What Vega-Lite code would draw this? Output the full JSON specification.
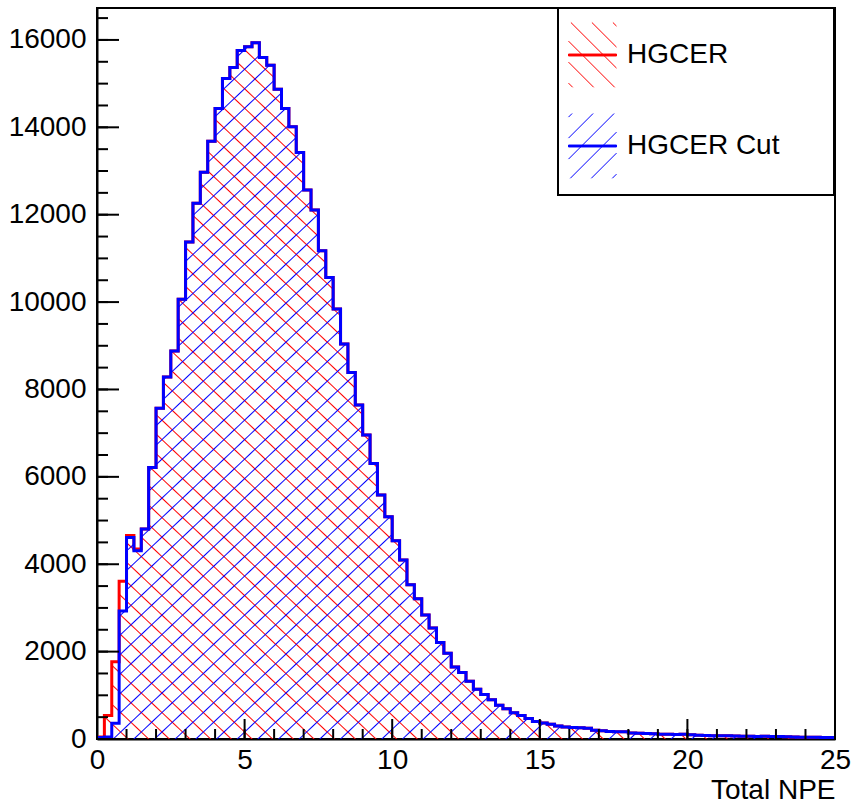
{
"$schema":"https://vega.github.io/schema/vega-lite/v6.json",
"width":738,"height":731,
"autosize":{"type":"none"},
"padding":{"left":97,"top":8,"right":19,"bottom":65},
"background":"white",
"config":{
"view":{"stroke":"black","strokeWidth":2},
"font":"Liberation Sans",
"axis":{"grid":false,"ticks":false,"domainColor":"black","domainWidth":2,"labelColor":"black","labelFont":"Liberation Sans","labelFontSize":28,"titleFont":"Liberation Sans","titleFontSize":28,"titleFontWeight":"normal","titleColor":"black","labelFlush":false,"labelOverlap":false}
},
"data":{"values":[
{"x":0,"r":45,"b":35},{"x":0.25,"r":540,"b":45},{"x":0.5,"r":1769,"b":360},{"x":0.75,"r":3612,"b":2930},
{"x":1,"r":4655,"b":4610},{"x":1.25,"r":4346,"b":4310},{"x":1.5,"r":4805,"b":4805},{"x":1.75,"r":6213,"b":6213},
{"x":2,"r":7573,"b":7573},{"x":2.25,"r":8285,"b":8285},{"x":2.5,"r":8881,"b":8881},{"x":2.75,"r":10063,"b":10063},
{"x":3,"r":11375,"b":11375},{"x":3.25,"r":12265,"b":12265},{"x":3.5,"r":12970,"b":12970},{"x":3.75,"r":13680,"b":13680},
{"x":4,"r":14433,"b":14433},{"x":4.25,"r":15120,"b":15120},{"x":4.5,"r":15370,"b":15370},{"x":4.75,"r":15757,"b":15757},
{"x":5,"r":15845,"b":15845},{"x":5.25,"r":15935,"b":15935},{"x":5.5,"r":15600,"b":15600},{"x":5.75,"r":15423,"b":15423},
{"x":6,"r":14874,"b":14874},{"x":6.25,"r":14432,"b":14432},{"x":6.5,"r":14012,"b":14012},{"x":6.75,"r":13425,"b":13425},
{"x":7,"r":12563,"b":12563},{"x":7.25,"r":12110,"b":12110},{"x":7.5,"r":11174,"b":11174},{"x":7.75,"r":10565,"b":10565},
{"x":8,"r":9840,"b":9840},{"x":8.25,"r":9039,"b":9039},{"x":8.5,"r":8391,"b":8391},{"x":8.75,"r":7643,"b":7643},
{"x":9,"r":6957,"b":6957},{"x":9.25,"r":6308,"b":6308},{"x":9.5,"r":5584,"b":5584},{"x":9.75,"r":5087,"b":5087},
{"x":10,"r":4538,"b":4538},{"x":10.25,"r":4096,"b":4096},{"x":10.5,"r":3532,"b":3532},{"x":10.75,"r":3210,"b":3210},
{"x":11,"r":2838,"b":2838},{"x":11.25,"r":2540,"b":2540},{"x":11.5,"r":2208,"b":2208},{"x":11.75,"r":1961,"b":1961},
{"x":12,"r":1648,"b":1648},{"x":12.25,"r":1520,"b":1520},{"x":12.5,"r":1323,"b":1323},{"x":12.75,"r":1137,"b":1137},
{"x":13,"r":1018,"b":1018},{"x":13.25,"r":900,"b":900},{"x":13.5,"r":770,"b":770},{"x":13.75,"r":690,"b":690},
{"x":14,"r":600,"b":600},{"x":14.25,"r":540,"b":540},{"x":14.5,"r":470,"b":470},{"x":14.75,"r":400,"b":400},
{"x":15,"r":365,"b":365},{"x":15.25,"r":335,"b":335},{"x":15.5,"r":297,"b":297},{"x":15.75,"r":275,"b":275},
{"x":16,"r":262,"b":262},{"x":16.25,"r":256,"b":256},{"x":16.5,"r":244,"b":244},{"x":16.75,"r":200,"b":200},
{"x":17,"r":191,"b":191},{"x":17.25,"r":172,"b":172},{"x":17.5,"r":168,"b":168},{"x":17.75,"r":165,"b":165},
{"x":18,"r":140,"b":140},{"x":18.25,"r":132,"b":132},{"x":18.5,"r":128,"b":128},{"x":18.75,"r":122,"b":122},
{"x":19,"r":110,"b":110},{"x":19.25,"r":107,"b":107},{"x":19.5,"r":104,"b":104},{"x":19.75,"r":106,"b":106},
{"x":20,"r":100,"b":100},{"x":20.25,"r":85,"b":85},{"x":20.5,"r":78,"b":78},{"x":20.75,"r":76,"b":76},
{"x":21,"r":74,"b":74},{"x":21.25,"r":72,"b":72},{"x":21.5,"r":70,"b":70},{"x":21.75,"r":64,"b":64},
{"x":22,"r":62,"b":62},{"x":22.25,"r":60,"b":60},{"x":22.5,"r":62,"b":62},{"x":22.75,"r":58,"b":58},
{"x":23,"r":55,"b":55},{"x":23.25,"r":54,"b":54},{"x":23.5,"r":45,"b":45},{"x":23.75,"r":42,"b":42},
{"x":24,"r":40,"b":40},{"x":24.25,"r":38,"b":38},{"x":24.5,"r":36,"b":36},{"x":24.75,"r":35,"b":35},
{"x":25,"r":35,"b":35}
]},
"layer":[
{"mark":{"type":"area","interpolate":"step-after","fillOpacity":1,
"fill":{"gradient":"linear","x1":0,"y1":1,"x2":1,"y2":0,"stops":[
{"offset":0.006,"color":"rgba(255,0,0,0)"},{"offset":0.007,"color":"#ff0000"},{"offset":0.008,"color":"rgba(255,0,0,0)"},
{"offset":0.020,"color":"rgba(255,0,0,0)"},{"offset":0.021,"color":"#ff0000"},{"offset":0.022,"color":"rgba(255,0,0,0)"},
{"offset":0.034,"color":"rgba(255,0,0,0)"},{"offset":0.035,"color":"#ff0000"},{"offset":0.036,"color":"rgba(255,0,0,0)"},
{"offset":0.048,"color":"rgba(255,0,0,0)"},{"offset":0.049,"color":"#ff0000"},{"offset":0.050,"color":"rgba(255,0,0,0)"},
{"offset":0.062,"color":"rgba(255,0,0,0)"},{"offset":0.063,"color":"#ff0000"},{"offset":0.064,"color":"rgba(255,0,0,0)"},
{"offset":0.076,"color":"rgba(255,0,0,0)"},{"offset":0.077,"color":"#ff0000"},{"offset":0.078,"color":"rgba(255,0,0,0)"},
{"offset":0.090,"color":"rgba(255,0,0,0)"},{"offset":0.091,"color":"#ff0000"},{"offset":0.092,"color":"rgba(255,0,0,0)"},
{"offset":0.104,"color":"rgba(255,0,0,0)"},{"offset":0.105,"color":"#ff0000"},{"offset":0.106,"color":"rgba(255,0,0,0)"},
{"offset":0.118,"color":"rgba(255,0,0,0)"},{"offset":0.119,"color":"#ff0000"},{"offset":0.120,"color":"rgba(255,0,0,0)"},
{"offset":0.132,"color":"rgba(255,0,0,0)"},{"offset":0.133,"color":"#ff0000"},{"offset":0.134,"color":"rgba(255,0,0,0)"},
{"offset":0.146,"color":"rgba(255,0,0,0)"},{"offset":0.147,"color":"#ff0000"},{"offset":0.148,"color":"rgba(255,0,0,0)"},
{"offset":0.160,"color":"rgba(255,0,0,0)"},{"offset":0.161,"color":"#ff0000"},{"offset":0.162,"color":"rgba(255,0,0,0)"},
{"offset":0.174,"color":"rgba(255,0,0,0)"},{"offset":0.175,"color":"#ff0000"},{"offset":0.176,"color":"rgba(255,0,0,0)"},
{"offset":0.188,"color":"rgba(255,0,0,0)"},{"offset":0.189,"color":"#ff0000"},{"offset":0.190,"color":"rgba(255,0,0,0)"},
{"offset":0.202,"color":"rgba(255,0,0,0)"},{"offset":0.203,"color":"#ff0000"},{"offset":0.204,"color":"rgba(255,0,0,0)"},
{"offset":0.216,"color":"rgba(255,0,0,0)"},{"offset":0.217,"color":"#ff0000"},{"offset":0.218,"color":"rgba(255,0,0,0)"},
{"offset":0.230,"color":"rgba(255,0,0,0)"},{"offset":0.231,"color":"#ff0000"},{"offset":0.232,"color":"rgba(255,0,0,0)"},
{"offset":0.244,"color":"rgba(255,0,0,0)"},{"offset":0.245,"color":"#ff0000"},{"offset":0.246,"color":"rgba(255,0,0,0)"},
{"offset":0.258,"color":"rgba(255,0,0,0)"},{"offset":0.259,"color":"#ff0000"},{"offset":0.260,"color":"rgba(255,0,0,0)"},
{"offset":0.272,"color":"rgba(255,0,0,0)"},{"offset":0.273,"color":"#ff0000"},{"offset":0.274,"color":"rgba(255,0,0,0)"},
{"offset":0.286,"color":"rgba(255,0,0,0)"},{"offset":0.287,"color":"#ff0000"},{"offset":0.288,"color":"rgba(255,0,0,0)"},
{"offset":0.300,"color":"rgba(255,0,0,0)"},{"offset":0.301,"color":"#ff0000"},{"offset":0.302,"color":"rgba(255,0,0,0)"},
{"offset":0.314,"color":"rgba(255,0,0,0)"},{"offset":0.315,"color":"#ff0000"},{"offset":0.316,"color":"rgba(255,0,0,0)"},
{"offset":0.328,"color":"rgba(255,0,0,0)"},{"offset":0.329,"color":"#ff0000"},{"offset":0.330,"color":"rgba(255,0,0,0)"},
{"offset":0.342,"color":"rgba(255,0,0,0)"},{"offset":0.343,"color":"#ff0000"},{"offset":0.344,"color":"rgba(255,0,0,0)"},
{"offset":0.356,"color":"rgba(255,0,0,0)"},{"offset":0.357,"color":"#ff0000"},{"offset":0.358,"color":"rgba(255,0,0,0)"},
{"offset":0.370,"color":"rgba(255,0,0,0)"},{"offset":0.371,"color":"#ff0000"},{"offset":0.372,"color":"rgba(255,0,0,0)"},
{"offset":0.384,"color":"rgba(255,0,0,0)"},{"offset":0.385,"color":"#ff0000"},{"offset":0.386,"color":"rgba(255,0,0,0)"},
{"offset":0.398,"color":"rgba(255,0,0,0)"},{"offset":0.399,"color":"#ff0000"},{"offset":0.400,"color":"rgba(255,0,0,0)"},
{"offset":0.412,"color":"rgba(255,0,0,0)"},{"offset":0.413,"color":"#ff0000"},{"offset":0.414,"color":"rgba(255,0,0,0)"},
{"offset":0.426,"color":"rgba(255,0,0,0)"},{"offset":0.427,"color":"#ff0000"},{"offset":0.428,"color":"rgba(255,0,0,0)"},
{"offset":0.440,"color":"rgba(255,0,0,0)"},{"offset":0.441,"color":"#ff0000"},{"offset":0.442,"color":"rgba(255,0,0,0)"},
{"offset":0.454,"color":"rgba(255,0,0,0)"},{"offset":0.455,"color":"#ff0000"},{"offset":0.456,"color":"rgba(255,0,0,0)"},
{"offset":0.468,"color":"rgba(255,0,0,0)"},{"offset":0.469,"color":"#ff0000"},{"offset":0.470,"color":"rgba(255,0,0,0)"},
{"offset":0.482,"color":"rgba(255,0,0,0)"},{"offset":0.483,"color":"#ff0000"},{"offset":0.484,"color":"rgba(255,0,0,0)"},
{"offset":0.496,"color":"rgba(255,0,0,0)"},{"offset":0.497,"color":"#ff0000"},{"offset":0.498,"color":"rgba(255,0,0,0)"},
{"offset":0.510,"color":"rgba(255,0,0,0)"},{"offset":0.511,"color":"#ff0000"},{"offset":0.512,"color":"rgba(255,0,0,0)"},
{"offset":0.524,"color":"rgba(255,0,0,0)"},{"offset":0.525,"color":"#ff0000"},{"offset":0.526,"color":"rgba(255,0,0,0)"},
{"offset":0.538,"color":"rgba(255,0,0,0)"},{"offset":0.539,"color":"#ff0000"},{"offset":0.540,"color":"rgba(255,0,0,0)"},
{"offset":0.552,"color":"rgba(255,0,0,0)"},{"offset":0.553,"color":"#ff0000"},{"offset":0.554,"color":"rgba(255,0,0,0)"},
{"offset":0.566,"color":"rgba(255,0,0,0)"},{"offset":0.567,"color":"#ff0000"},{"offset":0.568,"color":"rgba(255,0,0,0)"},
{"offset":0.580,"color":"rgba(255,0,0,0)"},{"offset":0.581,"color":"#ff0000"},{"offset":0.582,"color":"rgba(255,0,0,0)"},
{"offset":0.594,"color":"rgba(255,0,0,0)"},{"offset":0.595,"color":"#ff0000"},{"offset":0.596,"color":"rgba(255,0,0,0)"},
{"offset":0.608,"color":"rgba(255,0,0,0)"},{"offset":0.609,"color":"#ff0000"},{"offset":0.610,"color":"rgba(255,0,0,0)"},
{"offset":0.622,"color":"rgba(255,0,0,0)"},{"offset":0.623,"color":"#ff0000"},{"offset":0.624,"color":"rgba(255,0,0,0)"},
{"offset":0.636,"color":"rgba(255,0,0,0)"},{"offset":0.637,"color":"#ff0000"},{"offset":0.638,"color":"rgba(255,0,0,0)"},
{"offset":0.650,"color":"rgba(255,0,0,0)"},{"offset":0.651,"color":"#ff0000"},{"offset":0.652,"color":"rgba(255,0,0,0)"},
{"offset":0.664,"color":"rgba(255,0,0,0)"},{"offset":0.665,"color":"#ff0000"},{"offset":0.666,"color":"rgba(255,0,0,0)"},
{"offset":0.678,"color":"rgba(255,0,0,0)"},{"offset":0.679,"color":"#ff0000"},{"offset":0.680,"color":"rgba(255,0,0,0)"},
{"offset":0.692,"color":"rgba(255,0,0,0)"},{"offset":0.693,"color":"#ff0000"},{"offset":0.694,"color":"rgba(255,0,0,0)"},
{"offset":0.706,"color":"rgba(255,0,0,0)"},{"offset":0.707,"color":"#ff0000"},{"offset":0.708,"color":"rgba(255,0,0,0)"},
{"offset":0.720,"color":"rgba(255,0,0,0)"},{"offset":0.721,"color":"#ff0000"},{"offset":0.722,"color":"rgba(255,0,0,0)"},
{"offset":0.734,"color":"rgba(255,0,0,0)"},{"offset":0.735,"color":"#ff0000"},{"offset":0.736,"color":"rgba(255,0,0,0)"},
{"offset":0.748,"color":"rgba(255,0,0,0)"},{"offset":0.749,"color":"#ff0000"},{"offset":0.750,"color":"rgba(255,0,0,0)"},
{"offset":0.762,"color":"rgba(255,0,0,0)"},{"offset":0.763,"color":"#ff0000"},{"offset":0.764,"color":"rgba(255,0,0,0)"},
{"offset":0.776,"color":"rgba(255,0,0,0)"},{"offset":0.777,"color":"#ff0000"},{"offset":0.778,"color":"rgba(255,0,0,0)"},
{"offset":0.790,"color":"rgba(255,0,0,0)"},{"offset":0.791,"color":"#ff0000"},{"offset":0.792,"color":"rgba(255,0,0,0)"},
{"offset":0.804,"color":"rgba(255,0,0,0)"},{"offset":0.805,"color":"#ff0000"},{"offset":0.806,"color":"rgba(255,0,0,0)"},
{"offset":0.818,"color":"rgba(255,0,0,0)"},{"offset":0.819,"color":"#ff0000"},{"offset":0.820,"color":"rgba(255,0,0,0)"},
{"offset":0.832,"color":"rgba(255,0,0,0)"},{"offset":0.833,"color":"#ff0000"},{"offset":0.834,"color":"rgba(255,0,0,0)"},
{"offset":0.846,"color":"rgba(255,0,0,0)"},{"offset":0.847,"color":"#ff0000"},{"offset":0.848,"color":"rgba(255,0,0,0)"},
{"offset":0.860,"color":"rgba(255,0,0,0)"},{"offset":0.861,"color":"#ff0000"},{"offset":0.862,"color":"rgba(255,0,0,0)"},
{"offset":0.874,"color":"rgba(255,0,0,0)"},{"offset":0.875,"color":"#ff0000"},{"offset":0.876,"color":"rgba(255,0,0,0)"},
{"offset":0.888,"color":"rgba(255,0,0,0)"},{"offset":0.889,"color":"#ff0000"},{"offset":0.890,"color":"rgba(255,0,0,0)"},
{"offset":0.902,"color":"rgba(255,0,0,0)"},{"offset":0.903,"color":"#ff0000"},{"offset":0.904,"color":"rgba(255,0,0,0)"},
{"offset":0.916,"color":"rgba(255,0,0,0)"},{"offset":0.917,"color":"#ff0000"},{"offset":0.918,"color":"rgba(255,0,0,0)"},
{"offset":0.930,"color":"rgba(255,0,0,0)"},{"offset":0.931,"color":"#ff0000"},{"offset":0.932,"color":"rgba(255,0,0,0)"},
{"offset":0.944,"color":"rgba(255,0,0,0)"},{"offset":0.945,"color":"#ff0000"},{"offset":0.946,"color":"rgba(255,0,0,0)"},
{"offset":0.958,"color":"rgba(255,0,0,0)"},{"offset":0.959,"color":"#ff0000"},{"offset":0.960,"color":"rgba(255,0,0,0)"},
{"offset":0.972,"color":"rgba(255,0,0,0)"},{"offset":0.973,"color":"#ff0000"},{"offset":0.974,"color":"rgba(255,0,0,0)"},
{"offset":0.986,"color":"rgba(255,0,0,0)"},{"offset":0.987,"color":"#ff0000"},{"offset":0.988,"color":"rgba(255,0,0,0)"}
]}},
"encoding":{
"x":{"field":"x","type":"quantitative","scale":{"domain":[0,25],"nice":false,"zero":false},
"axis":{"orient":"bottom","values":[0,5,10,15,20,25],"ticks":false,"labelPadding":7,"title":"Total NPE","titleAnchor":"end","titleAlign":"right","titlePadding":2}},
"y":{"field":"r","type":"quantitative","scale":{"domain":[0,16731],"nice":false},
"axis":{"orient":"left","values":[0,2000,4000,6000,8000,10000,12000,14000,16000],"ticks":false,"labelPadding":11,"title":null,"format":"d"}}
}},
{"mark":{"type":"line","interpolate":"step-after","strokeWidth":3},
"encoding":{
"x":{"field":"x","type":"quantitative","scale":{"domain":[0,25],"nice":false,"zero":false}},
"y":{"field":"r","type":"quantitative","scale":{"domain":[0,16731],"nice":false}},
"color":{"datum":"HGCER","type":"nominal","scale":{"domain":["HGCER","HGCER Cut"],"range":["#ff0000","#0000ff"]},
"legend":{"orient":"none","legendX":461,"legendY":0,"title":" ","titleOrient":"right","titlePadding":41,"titleFontSize":2,
"padding":14,"rowPadding":21,"symbolOffset":-4,"labelOffset":10,"symbolSize":2304,"symbolStrokeWidth":1,
"labelFont":"Liberation Sans","labelFontSize":28,"labelColor":"black","strokeColor":"black","fillColor":"white",
"encode":{"legend":{"update":{"strokeWidth":{"value":2}}},
"labels":{"update":{"dy":{"value":8.5}}},
"symbols":{"update":{"strokeWidth":{"value":1},
"fill":[{"test":"datum.value === 'HGCER'","value":"#ff0000"},{"value":"#0000ff"}],
"shape":[
{"test":"datum.value === 'HGCER'","value":"M-1,0.314H1V0.394H-1Z M0.85,-1,L1,-0.85 M-0.025,-1L1,0.025 M-0.9,-1L1,0.9 M-1,-0.225L0.925,1.7 M-1,0.65L0.05,1.7 M-1,1.525L-0.825,1.7"},
{"value":"M-1,0.314H1V0.394H-1Z M-1,-0.85L-0.85,-1 M-1,0.025L0.025,-1 M-1,0.9L0.9,-1 M-0.925,1.7L1,-0.225 M-0.05,1.7L1,0.65 M0.825,1.7L1,1.525"}
]}}}}}
}},
{"mark":{"type":"area","interpolate":"step-after","fillOpacity":1,
"fill":{"gradient":"linear","x1":0,"y1":0,"x2":1,"y2":1,"stops":[
{"offset":0.006,"color":"rgba(0,0,255,0)"},{"offset":0.007,"color":"#0000ff"},{"offset":0.008,"color":"rgba(0,0,255,0)"},
{"offset":0.020,"color":"rgba(0,0,255,0)"},{"offset":0.021,"color":"#0000ff"},{"offset":0.022,"color":"rgba(0,0,255,0)"},
{"offset":0.034,"color":"rgba(0,0,255,0)"},{"offset":0.035,"color":"#0000ff"},{"offset":0.036,"color":"rgba(0,0,255,0)"},
{"offset":0.048,"color":"rgba(0,0,255,0)"},{"offset":0.049,"color":"#0000ff"},{"offset":0.050,"color":"rgba(0,0,255,0)"},
{"offset":0.062,"color":"rgba(0,0,255,0)"},{"offset":0.063,"color":"#0000ff"},{"offset":0.064,"color":"rgba(0,0,255,0)"},
{"offset":0.076,"color":"rgba(0,0,255,0)"},{"offset":0.077,"color":"#0000ff"},{"offset":0.078,"color":"rgba(0,0,255,0)"},
{"offset":0.090,"color":"rgba(0,0,255,0)"},{"offset":0.091,"color":"#0000ff"},{"offset":0.092,"color":"rgba(0,0,255,0)"},
{"offset":0.104,"color":"rgba(0,0,255,0)"},{"offset":0.105,"color":"#0000ff"},{"offset":0.106,"color":"rgba(0,0,255,0)"},
{"offset":0.118,"color":"rgba(0,0,255,0)"},{"offset":0.119,"color":"#0000ff"},{"offset":0.120,"color":"rgba(0,0,255,0)"},
{"offset":0.132,"color":"rgba(0,0,255,0)"},{"offset":0.133,"color":"#0000ff"},{"offset":0.134,"color":"rgba(0,0,255,0)"},
{"offset":0.146,"color":"rgba(0,0,255,0)"},{"offset":0.147,"color":"#0000ff"},{"offset":0.148,"color":"rgba(0,0,255,0)"},
{"offset":0.160,"color":"rgba(0,0,255,0)"},{"offset":0.161,"color":"#0000ff"},{"offset":0.162,"color":"rgba(0,0,255,0)"},
{"offset":0.174,"color":"rgba(0,0,255,0)"},{"offset":0.175,"color":"#0000ff"},{"offset":0.176,"color":"rgba(0,0,255,0)"},
{"offset":0.188,"color":"rgba(0,0,255,0)"},{"offset":0.189,"color":"#0000ff"},{"offset":0.190,"color":"rgba(0,0,255,0)"},
{"offset":0.202,"color":"rgba(0,0,255,0)"},{"offset":0.203,"color":"#0000ff"},{"offset":0.204,"color":"rgba(0,0,255,0)"},
{"offset":0.216,"color":"rgba(0,0,255,0)"},{"offset":0.217,"color":"#0000ff"},{"offset":0.218,"color":"rgba(0,0,255,0)"},
{"offset":0.230,"color":"rgba(0,0,255,0)"},{"offset":0.231,"color":"#0000ff"},{"offset":0.232,"color":"rgba(0,0,255,0)"},
{"offset":0.244,"color":"rgba(0,0,255,0)"},{"offset":0.245,"color":"#0000ff"},{"offset":0.246,"color":"rgba(0,0,255,0)"},
{"offset":0.258,"color":"rgba(0,0,255,0)"},{"offset":0.259,"color":"#0000ff"},{"offset":0.260,"color":"rgba(0,0,255,0)"},
{"offset":0.272,"color":"rgba(0,0,255,0)"},{"offset":0.273,"color":"#0000ff"},{"offset":0.274,"color":"rgba(0,0,255,0)"},
{"offset":0.286,"color":"rgba(0,0,255,0)"},{"offset":0.287,"color":"#0000ff"},{"offset":0.288,"color":"rgba(0,0,255,0)"},
{"offset":0.300,"color":"rgba(0,0,255,0)"},{"offset":0.301,"color":"#0000ff"},{"offset":0.302,"color":"rgba(0,0,255,0)"},
{"offset":0.314,"color":"rgba(0,0,255,0)"},{"offset":0.315,"color":"#0000ff"},{"offset":0.316,"color":"rgba(0,0,255,0)"},
{"offset":0.328,"color":"rgba(0,0,255,0)"},{"offset":0.329,"color":"#0000ff"},{"offset":0.330,"color":"rgba(0,0,255,0)"},
{"offset":0.342,"color":"rgba(0,0,255,0)"},{"offset":0.343,"color":"#0000ff"},{"offset":0.344,"color":"rgba(0,0,255,0)"},
{"offset":0.356,"color":"rgba(0,0,255,0)"},{"offset":0.357,"color":"#0000ff"},{"offset":0.358,"color":"rgba(0,0,255,0)"},
{"offset":0.370,"color":"rgba(0,0,255,0)"},{"offset":0.371,"color":"#0000ff"},{"offset":0.372,"color":"rgba(0,0,255,0)"},
{"offset":0.384,"color":"rgba(0,0,255,0)"},{"offset":0.385,"color":"#0000ff"},{"offset":0.386,"color":"rgba(0,0,255,0)"},
{"offset":0.398,"color":"rgba(0,0,255,0)"},{"offset":0.399,"color":"#0000ff"},{"offset":0.400,"color":"rgba(0,0,255,0)"},
{"offset":0.412,"color":"rgba(0,0,255,0)"},{"offset":0.413,"color":"#0000ff"},{"offset":0.414,"color":"rgba(0,0,255,0)"},
{"offset":0.426,"color":"rgba(0,0,255,0)"},{"offset":0.427,"color":"#0000ff"},{"offset":0.428,"color":"rgba(0,0,255,0)"},
{"offset":0.440,"color":"rgba(0,0,255,0)"},{"offset":0.441,"color":"#0000ff"},{"offset":0.442,"color":"rgba(0,0,255,0)"},
{"offset":0.454,"color":"rgba(0,0,255,0)"},{"offset":0.455,"color":"#0000ff"},{"offset":0.456,"color":"rgba(0,0,255,0)"},
{"offset":0.468,"color":"rgba(0,0,255,0)"},{"offset":0.469,"color":"#0000ff"},{"offset":0.470,"color":"rgba(0,0,255,0)"},
{"offset":0.482,"color":"rgba(0,0,255,0)"},{"offset":0.483,"color":"#0000ff"},{"offset":0.484,"color":"rgba(0,0,255,0)"},
{"offset":0.496,"color":"rgba(0,0,255,0)"},{"offset":0.497,"color":"#0000ff"},{"offset":0.498,"color":"rgba(0,0,255,0)"},
{"offset":0.510,"color":"rgba(0,0,255,0)"},{"offset":0.511,"color":"#0000ff"},{"offset":0.512,"color":"rgba(0,0,255,0)"},
{"offset":0.524,"color":"rgba(0,0,255,0)"},{"offset":0.525,"color":"#0000ff"},{"offset":0.526,"color":"rgba(0,0,255,0)"},
{"offset":0.538,"color":"rgba(0,0,255,0)"},{"offset":0.539,"color":"#0000ff"},{"offset":0.540,"color":"rgba(0,0,255,0)"},
{"offset":0.552,"color":"rgba(0,0,255,0)"},{"offset":0.553,"color":"#0000ff"},{"offset":0.554,"color":"rgba(0,0,255,0)"},
{"offset":0.566,"color":"rgba(0,0,255,0)"},{"offset":0.567,"color":"#0000ff"},{"offset":0.568,"color":"rgba(0,0,255,0)"},
{"offset":0.580,"color":"rgba(0,0,255,0)"},{"offset":0.581,"color":"#0000ff"},{"offset":0.582,"color":"rgba(0,0,255,0)"},
{"offset":0.594,"color":"rgba(0,0,255,0)"},{"offset":0.595,"color":"#0000ff"},{"offset":0.596,"color":"rgba(0,0,255,0)"},
{"offset":0.608,"color":"rgba(0,0,255,0)"},{"offset":0.609,"color":"#0000ff"},{"offset":0.610,"color":"rgba(0,0,255,0)"},
{"offset":0.622,"color":"rgba(0,0,255,0)"},{"offset":0.623,"color":"#0000ff"},{"offset":0.624,"color":"rgba(0,0,255,0)"},
{"offset":0.636,"color":"rgba(0,0,255,0)"},{"offset":0.637,"color":"#0000ff"},{"offset":0.638,"color":"rgba(0,0,255,0)"},
{"offset":0.650,"color":"rgba(0,0,255,0)"},{"offset":0.651,"color":"#0000ff"},{"offset":0.652,"color":"rgba(0,0,255,0)"},
{"offset":0.664,"color":"rgba(0,0,255,0)"},{"offset":0.665,"color":"#0000ff"},{"offset":0.666,"color":"rgba(0,0,255,0)"},
{"offset":0.678,"color":"rgba(0,0,255,0)"},{"offset":0.679,"color":"#0000ff"},{"offset":0.680,"color":"rgba(0,0,255,0)"},
{"offset":0.692,"color":"rgba(0,0,255,0)"},{"offset":0.693,"color":"#0000ff"},{"offset":0.694,"color":"rgba(0,0,255,0)"},
{"offset":0.706,"color":"rgba(0,0,255,0)"},{"offset":0.707,"color":"#0000ff"},{"offset":0.708,"color":"rgba(0,0,255,0)"},
{"offset":0.720,"color":"rgba(0,0,255,0)"},{"offset":0.721,"color":"#0000ff"},{"offset":0.722,"color":"rgba(0,0,255,0)"},
{"offset":0.734,"color":"rgba(0,0,255,0)"},{"offset":0.735,"color":"#0000ff"},{"offset":0.736,"color":"rgba(0,0,255,0)"},
{"offset":0.748,"color":"rgba(0,0,255,0)"},{"offset":0.749,"color":"#0000ff"},{"offset":0.750,"color":"rgba(0,0,255,0)"},
{"offset":0.762,"color":"rgba(0,0,255,0)"},{"offset":0.763,"color":"#0000ff"},{"offset":0.764,"color":"rgba(0,0,255,0)"},
{"offset":0.776,"color":"rgba(0,0,255,0)"},{"offset":0.777,"color":"#0000ff"},{"offset":0.778,"color":"rgba(0,0,255,0)"},
{"offset":0.790,"color":"rgba(0,0,255,0)"},{"offset":0.791,"color":"#0000ff"},{"offset":0.792,"color":"rgba(0,0,255,0)"},
{"offset":0.804,"color":"rgba(0,0,255,0)"},{"offset":0.805,"color":"#0000ff"},{"offset":0.806,"color":"rgba(0,0,255,0)"},
{"offset":0.818,"color":"rgba(0,0,255,0)"},{"offset":0.819,"color":"#0000ff"},{"offset":0.820,"color":"rgba(0,0,255,0)"},
{"offset":0.832,"color":"rgba(0,0,255,0)"},{"offset":0.833,"color":"#0000ff"},{"offset":0.834,"color":"rgba(0,0,255,0)"},
{"offset":0.846,"color":"rgba(0,0,255,0)"},{"offset":0.847,"color":"#0000ff"},{"offset":0.848,"color":"rgba(0,0,255,0)"},
{"offset":0.860,"color":"rgba(0,0,255,0)"},{"offset":0.861,"color":"#0000ff"},{"offset":0.862,"color":"rgba(0,0,255,0)"},
{"offset":0.874,"color":"rgba(0,0,255,0)"},{"offset":0.875,"color":"#0000ff"},{"offset":0.876,"color":"rgba(0,0,255,0)"},
{"offset":0.888,"color":"rgba(0,0,255,0)"},{"offset":0.889,"color":"#0000ff"},{"offset":0.890,"color":"rgba(0,0,255,0)"},
{"offset":0.902,"color":"rgba(0,0,255,0)"},{"offset":0.903,"color":"#0000ff"},{"offset":0.904,"color":"rgba(0,0,255,0)"},
{"offset":0.916,"color":"rgba(0,0,255,0)"},{"offset":0.917,"color":"#0000ff"},{"offset":0.918,"color":"rgba(0,0,255,0)"},
{"offset":0.930,"color":"rgba(0,0,255,0)"},{"offset":0.931,"color":"#0000ff"},{"offset":0.932,"color":"rgba(0,0,255,0)"},
{"offset":0.944,"color":"rgba(0,0,255,0)"},{"offset":0.945,"color":"#0000ff"},{"offset":0.946,"color":"rgba(0,0,255,0)"},
{"offset":0.958,"color":"rgba(0,0,255,0)"},{"offset":0.959,"color":"#0000ff"},{"offset":0.960,"color":"rgba(0,0,255,0)"},
{"offset":0.972,"color":"rgba(0,0,255,0)"},{"offset":0.973,"color":"#0000ff"},{"offset":0.974,"color":"rgba(0,0,255,0)"},
{"offset":0.986,"color":"rgba(0,0,255,0)"},{"offset":0.987,"color":"#0000ff"},{"offset":0.988,"color":"rgba(0,0,255,0)"}
]}},
"encoding":{
"x":{"field":"x","type":"quantitative","scale":{"domain":[0,25],"nice":false,"zero":false}},
"y":{"field":"b","type":"quantitative","scale":{"domain":[0,16731],"nice":false}}
}},
{"mark":{"type":"line","interpolate":"step-after","strokeWidth":3},
"encoding":{
"x":{"field":"x","type":"quantitative","scale":{"domain":[0,25],"nice":false,"zero":false}},
"y":{"field":"b","type":"quantitative","scale":{"domain":[0,16731],"nice":false}},
"color":{"datum":"HGCER Cut","type":"nominal"}
}},
{"data":{"values":[{"v":0},{"v":1},{"v":2},{"v":3},{"v":4},{"v":5},{"v":6},{"v":7},{"v":8},{"v":9},{"v":10},{"v":11},{"v":12},{"v":13},{"v":14},{"v":15},{"v":16},{"v":17},{"v":18},{"v":19},{"v":20},{"v":21},{"v":22},{"v":23},{"v":24},{"v":25}]},
"mark":{"type":"tick","orient":"vertical","size":10,"thickness":2,"color":"black","opacity":1,"yOffset":-5},
"encoding":{
"x":{"field":"v","type":"quantitative","scale":{"domain":[0,25],"nice":false,"zero":false}},
"y":{"datum":0,"type":"quantitative","scale":{"domain":[0,16731],"nice":false}}
}},
{"data":{"values":[{"v":0},{"v":5},{"v":10},{"v":15},{"v":20},{"v":25}]},
"mark":{"type":"tick","orient":"vertical","size":20,"thickness":2,"color":"black","opacity":1,"yOffset":-10},
"encoding":{
"x":{"field":"v","type":"quantitative","scale":{"domain":[0,25],"nice":false,"zero":false}},
"y":{"datum":0,"type":"quantitative","scale":{"domain":[0,16731],"nice":false}}
}},
{"data":{"values":[{"v":0},{"v":500},{"v":1000},{"v":1500},{"v":2000},{"v":2500},{"v":3000},{"v":3500},{"v":4000},{"v":4500},{"v":5000},{"v":5500},{"v":6000},{"v":6500},{"v":7000},{"v":7500},{"v":8000},{"v":8500},{"v":9000},{"v":9500},{"v":10000},{"v":10500},{"v":11000},{"v":11500},{"v":12000},{"v":12500},{"v":13000},{"v":13500},{"v":14000},{"v":14500},{"v":15000},{"v":15500},{"v":16000},{"v":16500}]},
"mark":{"type":"tick","orient":"horizontal","size":11,"thickness":2,"color":"black","opacity":1,"xOffset":5.5},
"encoding":{
"y":{"field":"v","type":"quantitative","scale":{"domain":[0,16731],"nice":false}},
"x":{"datum":0,"type":"quantitative","scale":{"domain":[0,25],"nice":false,"zero":false}}
}},
{"data":{"values":[{"v":0},{"v":2000},{"v":4000},{"v":6000},{"v":8000},{"v":10000},{"v":12000},{"v":14000},{"v":16000}]},
"mark":{"type":"tick","orient":"horizontal","size":22,"thickness":2,"color":"black","opacity":1,"xOffset":11},
"encoding":{
"y":{"field":"v","type":"quantitative","scale":{"domain":[0,16731],"nice":false}},
"x":{"datum":0,"type":"quantitative","scale":{"domain":[0,25],"nice":false,"zero":false}}
}}
]
}
